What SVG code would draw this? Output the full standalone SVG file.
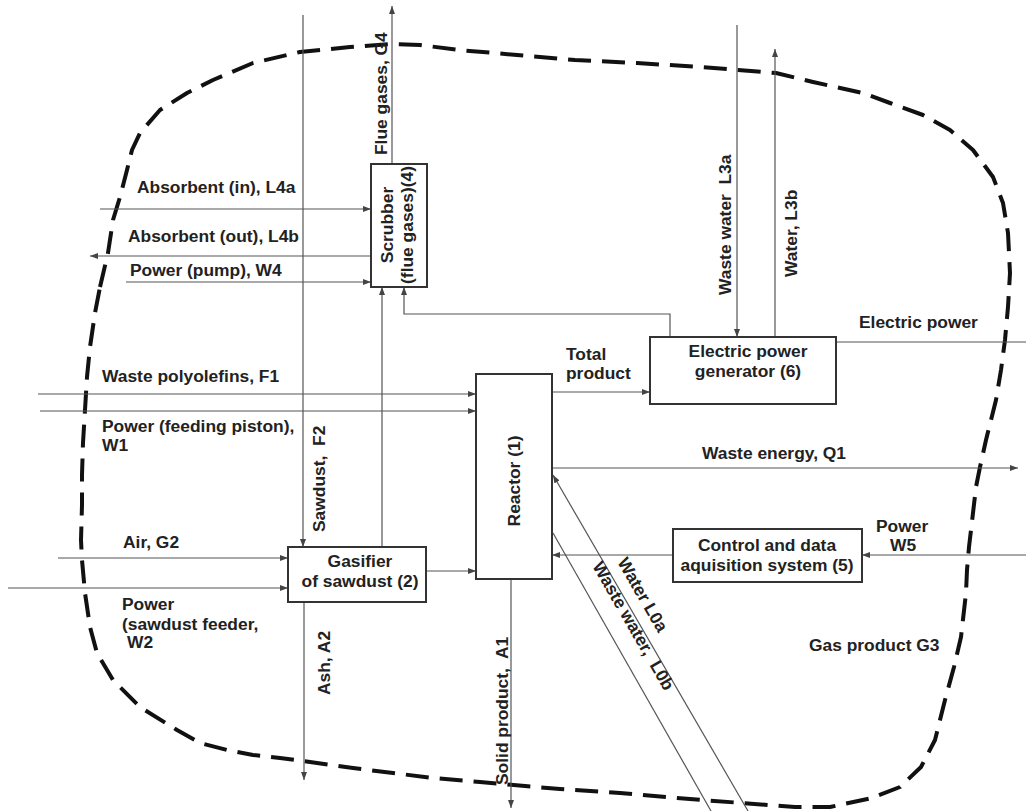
<svg xmlns="http://www.w3.org/2000/svg" width="1026" height="811" viewBox="0 0 1026 811">
<style>
.bg{fill:#ffffff}
.box{fill:#ffffff;stroke:#333;stroke-width:2}
.ln{fill:none;stroke:#555;stroke-width:1.2}
.bnd{fill:none;stroke:#111;stroke-width:4;stroke-dasharray:23 11;stroke-linejoin:round}
text{font-family:"Liberation Sans",Arial,sans-serif;font-size:17.4px;font-weight:bold;fill:#222;white-space:pre}
.c{text-anchor:middle}
</style>
<defs>
<marker id="ah" viewBox="0 0 8 6" refX="8" refY="3" markerWidth="8" markerHeight="6" markerUnits="userSpaceOnUse" orient="auto">
<path d="M0,0 L8,3 L0,6 Z" fill="#444"/>
</marker>
</defs>
<rect class="bg" x="0" y="0" width="1026" height="811"/>

<g id="boundary">
<polygon class="bnd" points="100,287 108,253 113,220 120,197 127,170 132,150 140,133 160,110 187,93 213,80 253,63 300,52 350,47 390,44 420,45 459,50 517,55 575,60 637,63 700,67 738,70 776,73 813,82 863,93 890,103 923,115 950,130 973,150 993,177 1003,203 1008,233 1010,273 1008,307 1005,340 1001,370 996,400 986,440 980,467 976,487 973,513 969,547 967,570 966,593 961,637 954,667 945,700 935,740 921,767 900,787 872,798 830,807 795,807 742,803 676,798 620,793 560,789 525,786 480,782 433,778 393,773 353,768 310,762 280,758 253,755 227,750 200,743 177,730 140,707 113,680 97,653 90,627 85,593 82,560 81,540 82,505 82,475 83,443 85,410 87,377 90,347 95,313"/>
</g>

<g id="connectors">
<line class="ln" x1="392" y1="287" x2="392" y2="6" marker-end="url(#ah)"/>
<line class="ln" x1="303" y1="15" x2="303" y2="547" marker-end="url(#ah)"/>
<line class="ln" x1="100" y1="209" x2="371" y2="209" marker-end="url(#ah)"/>
<line class="ln" x1="371" y1="256" x2="90" y2="256" marker-end="url(#ah)"/>
<line class="ln" x1="126" y1="282" x2="371" y2="282" marker-end="url(#ah)"/>
<line class="ln" x1="382" y1="547" x2="382" y2="287" marker-end="url(#ah)"/>
<polyline class="ln" points="670,337 670,314 404,314 404,287" marker-end="url(#ah)"/>
<line class="ln" x1="737" y1="25" x2="737" y2="337" marker-end="url(#ah)"/>
<line class="ln" x1="775" y1="337" x2="775" y2="49" marker-end="url(#ah)"/>
<line class="ln" x1="836" y1="342" x2="1026" y2="342"/>
<line class="ln" x1="552" y1="392" x2="650" y2="392" marker-end="url(#ah)"/>
<line class="ln" x1="38" y1="394" x2="476" y2="394" marker-end="url(#ah)"/>
<line class="ln" x1="40" y1="411" x2="476" y2="411" marker-end="url(#ah)"/>
<line class="ln" x1="552" y1="468" x2="1018" y2="468" marker-end="url(#ah)"/>
<line class="ln" x1="58" y1="558" x2="288" y2="558" marker-end="url(#ah)"/>
<line class="ln" x1="8" y1="588" x2="288" y2="588" marker-end="url(#ah)"/>
<line class="ln" x1="426" y1="571" x2="476" y2="571" marker-end="url(#ah)"/>
<line class="ln" x1="304" y1="602" x2="304" y2="780" marker-end="url(#ah)"/>
<line class="ln" x1="511" y1="579" x2="511" y2="808" marker-end="url(#ah)"/>
<line class="ln" x1="673" y1="555" x2="552" y2="555" marker-end="url(#ah)"/>
<line class="ln" x1="1026" y1="555" x2="862" y2="555" marker-end="url(#ah)"/>
<line class="ln" x1="748" y1="811" x2="553" y2="475" marker-end="url(#ah)"/>
<line class="ln" x1="553" y1="533" x2="711" y2="811"/>
</g>

<g id="scrubber">
<rect class="box" x="371" y="164" width="56" height="123"/>
<text class="c" transform="translate(393,225) rotate(-90)">Scrubber</text>
<text class="c" transform="translate(413,225) rotate(-90)">(flue gases)(4)</text>
</g>
<g id="generator">
<rect class="box" x="650" y="337" width="186" height="67"/>
<text class="c" x="748" y="357">Electric power</text>
<text class="c" x="748" y="377">generator (6)</text>
</g>
<g id="reactor">
<rect class="box" x="476" y="374" width="76" height="205"/>
<text class="c" transform="translate(520,481) rotate(-90)">Reactor (1)</text>
</g>
<g id="gasifier">
<rect class="box" x="288" y="547" width="138" height="55"/>
<text class="c" x="360" y="567">Gasifier</text>
<text class="c" x="360" y="587">of sawdust (2)</text>
</g>
<g id="control">
<rect class="box" x="673" y="529" width="189" height="53"/>
<text class="c" x="767" y="551">Control and data</text>
<text class="c" x="767" y="571">aquisition system (5)</text>
</g>

<g id="labels">
<text x="137" y="193">Absorbent (in), L4a</text>
<text x="128" y="242">Absorbent (out), L4b</text>
<text x="130" y="276">Power (pump), W4</text>
<text transform="translate(387,155) rotate(-90)">Flue gases, G4</text>
<text transform="translate(731,295) rotate(-90)">Waste water  L3a</text>
<text transform="translate(797,277) rotate(-90)">Water, L3b</text>
<text x="859" y="328">Electric power</text>
<text x="566" y="360">Total</text>
<text x="566" y="379">product</text>
<text x="102" y="382">Waste polyolefins, F1</text>
<text x="102" y="432">Power (feeding piston),</text>
<text x="102" y="451">W1</text>
<text transform="translate(325,532) rotate(-90)">Sawdust,  F2</text>
<text x="702" y="459">Waste energy, Q1</text>
<text x="123" y="548">Air, G2</text>
<text x="876" y="532">Power</text>
<text x="890" y="551">W5</text>
<text x="122" y="610">Power</text>
<text x="122" y="630">(sawdust feeder,</text>
<text x="127" y="648">W2</text>
<text transform="translate(330,695) rotate(-90)">Ash, A2</text>
<text transform="translate(508,785) rotate(-90)">Solid product,  A1</text>
<text x="809" y="651">Gas product G3</text>
<text transform="translate(617,562) rotate(60)">Water L0a</text>
<text transform="translate(592,566) rotate(60)">Waste water,  L0b</text>
</g>
</svg>
